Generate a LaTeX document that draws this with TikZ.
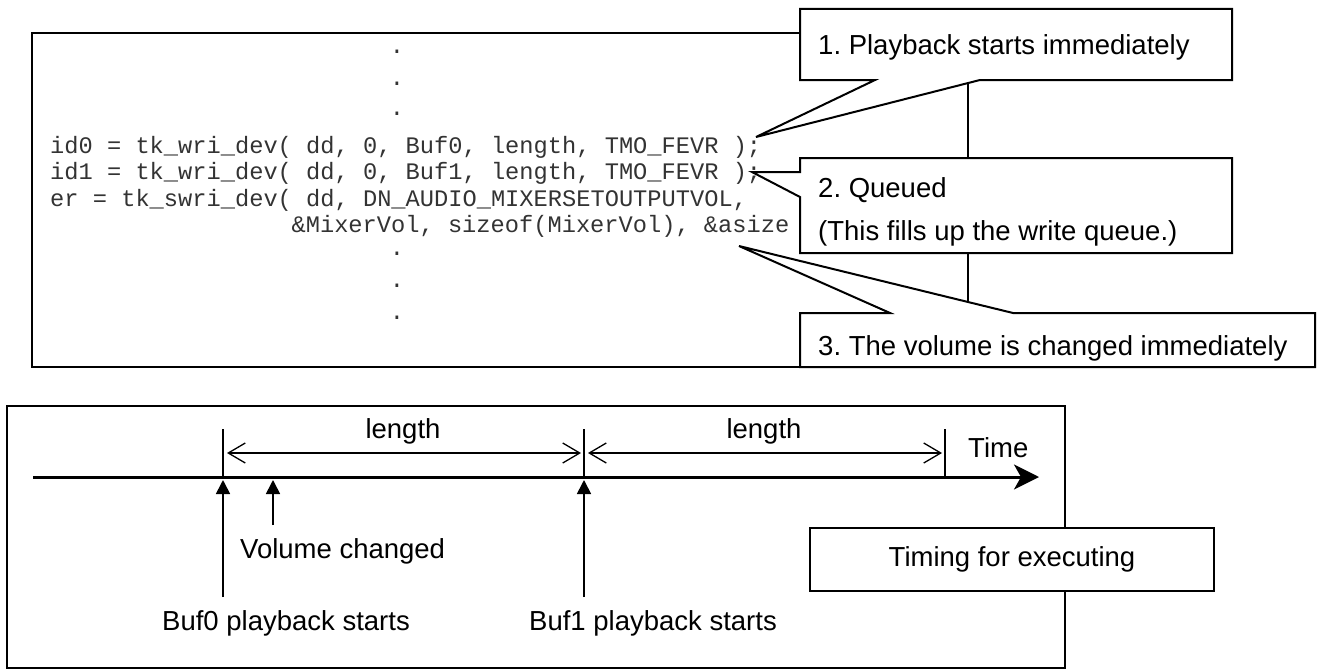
\documentclass[tikz,border=0pt]{standalone}
\usepackage{fontspec}
\setmainfont{Liberation Sans}
\setmonofont{Liberation Mono}
\usetikzlibrary{arrows.meta}
\frenchspacing

\tikzset{
    boxline/.style={draw, line width=2pt},
    callout/.style={draw, fill=white, line width=2pt, line join=miter},
    code/.style={anchor=base west, inner sep=0pt, text=black!80,
        font=\fontsize{23.7}{26}\selectfont\ttfamily},
    note/.style={anchor=base west, inner sep=0pt,
        font=\fontsize{27.5}{33}\selectfont},
    timeaxis/.style={line width=3pt, -{Stealth[length=25pt,width=25pt,inset=7pt]}},
    tickline/.style={line width=1.4pt},
    spanarrow/.style={line width=1.3pt,
        {Straight Barb[length=17pt,width=20pt]}-{Straight Barb[length=17pt,width=20pt]}},
    event/.style={line width=1.7pt, -{Triangle[length=14pt,width=14pt]}},
}

\begin{document}
\begin{tikzpicture}[x=1pt,y=1pt,yscale=-1]
    \useasboundingbox (0,0) rectangle (1321,669);

    % code listing
    \draw[boxline] (32,33) rectangle (968,367);

    % Text Node
    \node[code, anchor=base] (dot0) at (397,54) {.};
    \node[code, anchor=base] (dot1) at (397,85) {.};
    \node[code, anchor=base] (dot2) at (397,115) {.};
    % Text Node
    \node[code] (line0) at (50,153) {id0 = tk\_wri\_dev( dd, 0, Buf0, length, TMO\_FEVR );};
    \node[code] (line1) at (50,179) {id1 = tk\_wri\_dev( dd, 0, Buf1, length, TMO\_FEVR );};
    \node[code] (line2) at (50,206) {er = tk\_swri\_dev( dd, DN\_AUDIO\_MIXERSETOUTPUTVOL,};
    \node[code] (line3) at (291.4,232) {\&MixerVol, sizeof(MixerVol), \&asize};
    % Text Node
    \node[code, anchor=base] (dot3) at (397,255) {.};
    \node[code, anchor=base] (dot4) at (397,287) {.};
    \node[code, anchor=base] (dot5) at (397,319) {.};

    % callouts
    \draw[callout] (800,9) -- (1232,9) -- (1232,80) -- (980,80) -- (756,137) -- (875,80) -- (800,80) -- cycle;
    \draw[callout] (800,158) -- (1232,158) -- (1232,253) -- (800,253) -- (800,197) -- (752,172) -- (800,172) -- cycle;
    \draw[callout] (800,313) -- (890,313) -- (739,246) -- (1013,313) -- (1315,313) -- (1315,367) -- (800,367) -- cycle;

    % Text Node
    \node[note] (note1) at (818,55) {1. Playback starts immediately};
    % Text Node
    \node[note] (note2) at (818,197) {2. Queued};
    \node[note] (note2b) at (818,240) {(This fills up the write queue.)};
    % Text Node
    \node[note] (note3) at (818,355) {3. The volume is changed immediately};

    % timeline
    \draw[boxline] (7,406) rectangle (1065,668);
    \coordinate (start) at (33,477);
    \coordinate (end) at (1039,477);
    \coordinate (t0) at (223,477);
    \coordinate (t1) at (584,477);
    \coordinate (t2) at (945,477);
    \draw[timeaxis] (start) -- (end);
    \draw[tickline] (t0) -- (223,429);
    \draw[tickline] (t1) -- (584,429);
    \draw[tickline] (t2) -- (945,429);

    \coordinate (s0) at (227,453);
    \coordinate (s1) at (581,453);
    \coordinate (s2) at (588,453);
    \coordinate (s3) at (942,453);
    \draw[spanarrow] (s0) -- (s1);
    \draw[spanarrow] (s2) -- (s3);

    % Text Node
    \node[note, anchor=base] (len0) at (403,438) {length};
    \node[note, anchor=base] (len1) at (764,438) {length};
    % Text Node
    \node[note] (timelbl) at (968,457) {Time};

    \coordinate (hit0) at (223,480);
    \coordinate (hitv) at (273,480);
    \coordinate (hit1) at (584,480);
    \draw[event] (223,597) -- (hit0);
    \draw[event] (273,525) -- (hitv);
    \draw[event] (584,597) -- (hit1);

    % Text Node
    \node[note] (volume) at (240,558) {Volume changed};
    \node[note] (buf0) at (162,630) {Buf0 playback starts};
    \node[note] (buf1) at (529,630) {Buf1 playback starts};

    % Text Node
    \node[draw, fill=white, line width=2pt, inner sep=0pt, minimum width=404pt,
        minimum height=63pt, font=\fontsize{27.5}{33}\selectfont] (timing) at (1012,559.5) {Timing for executing};
\end{tikzpicture}
\end{document}
